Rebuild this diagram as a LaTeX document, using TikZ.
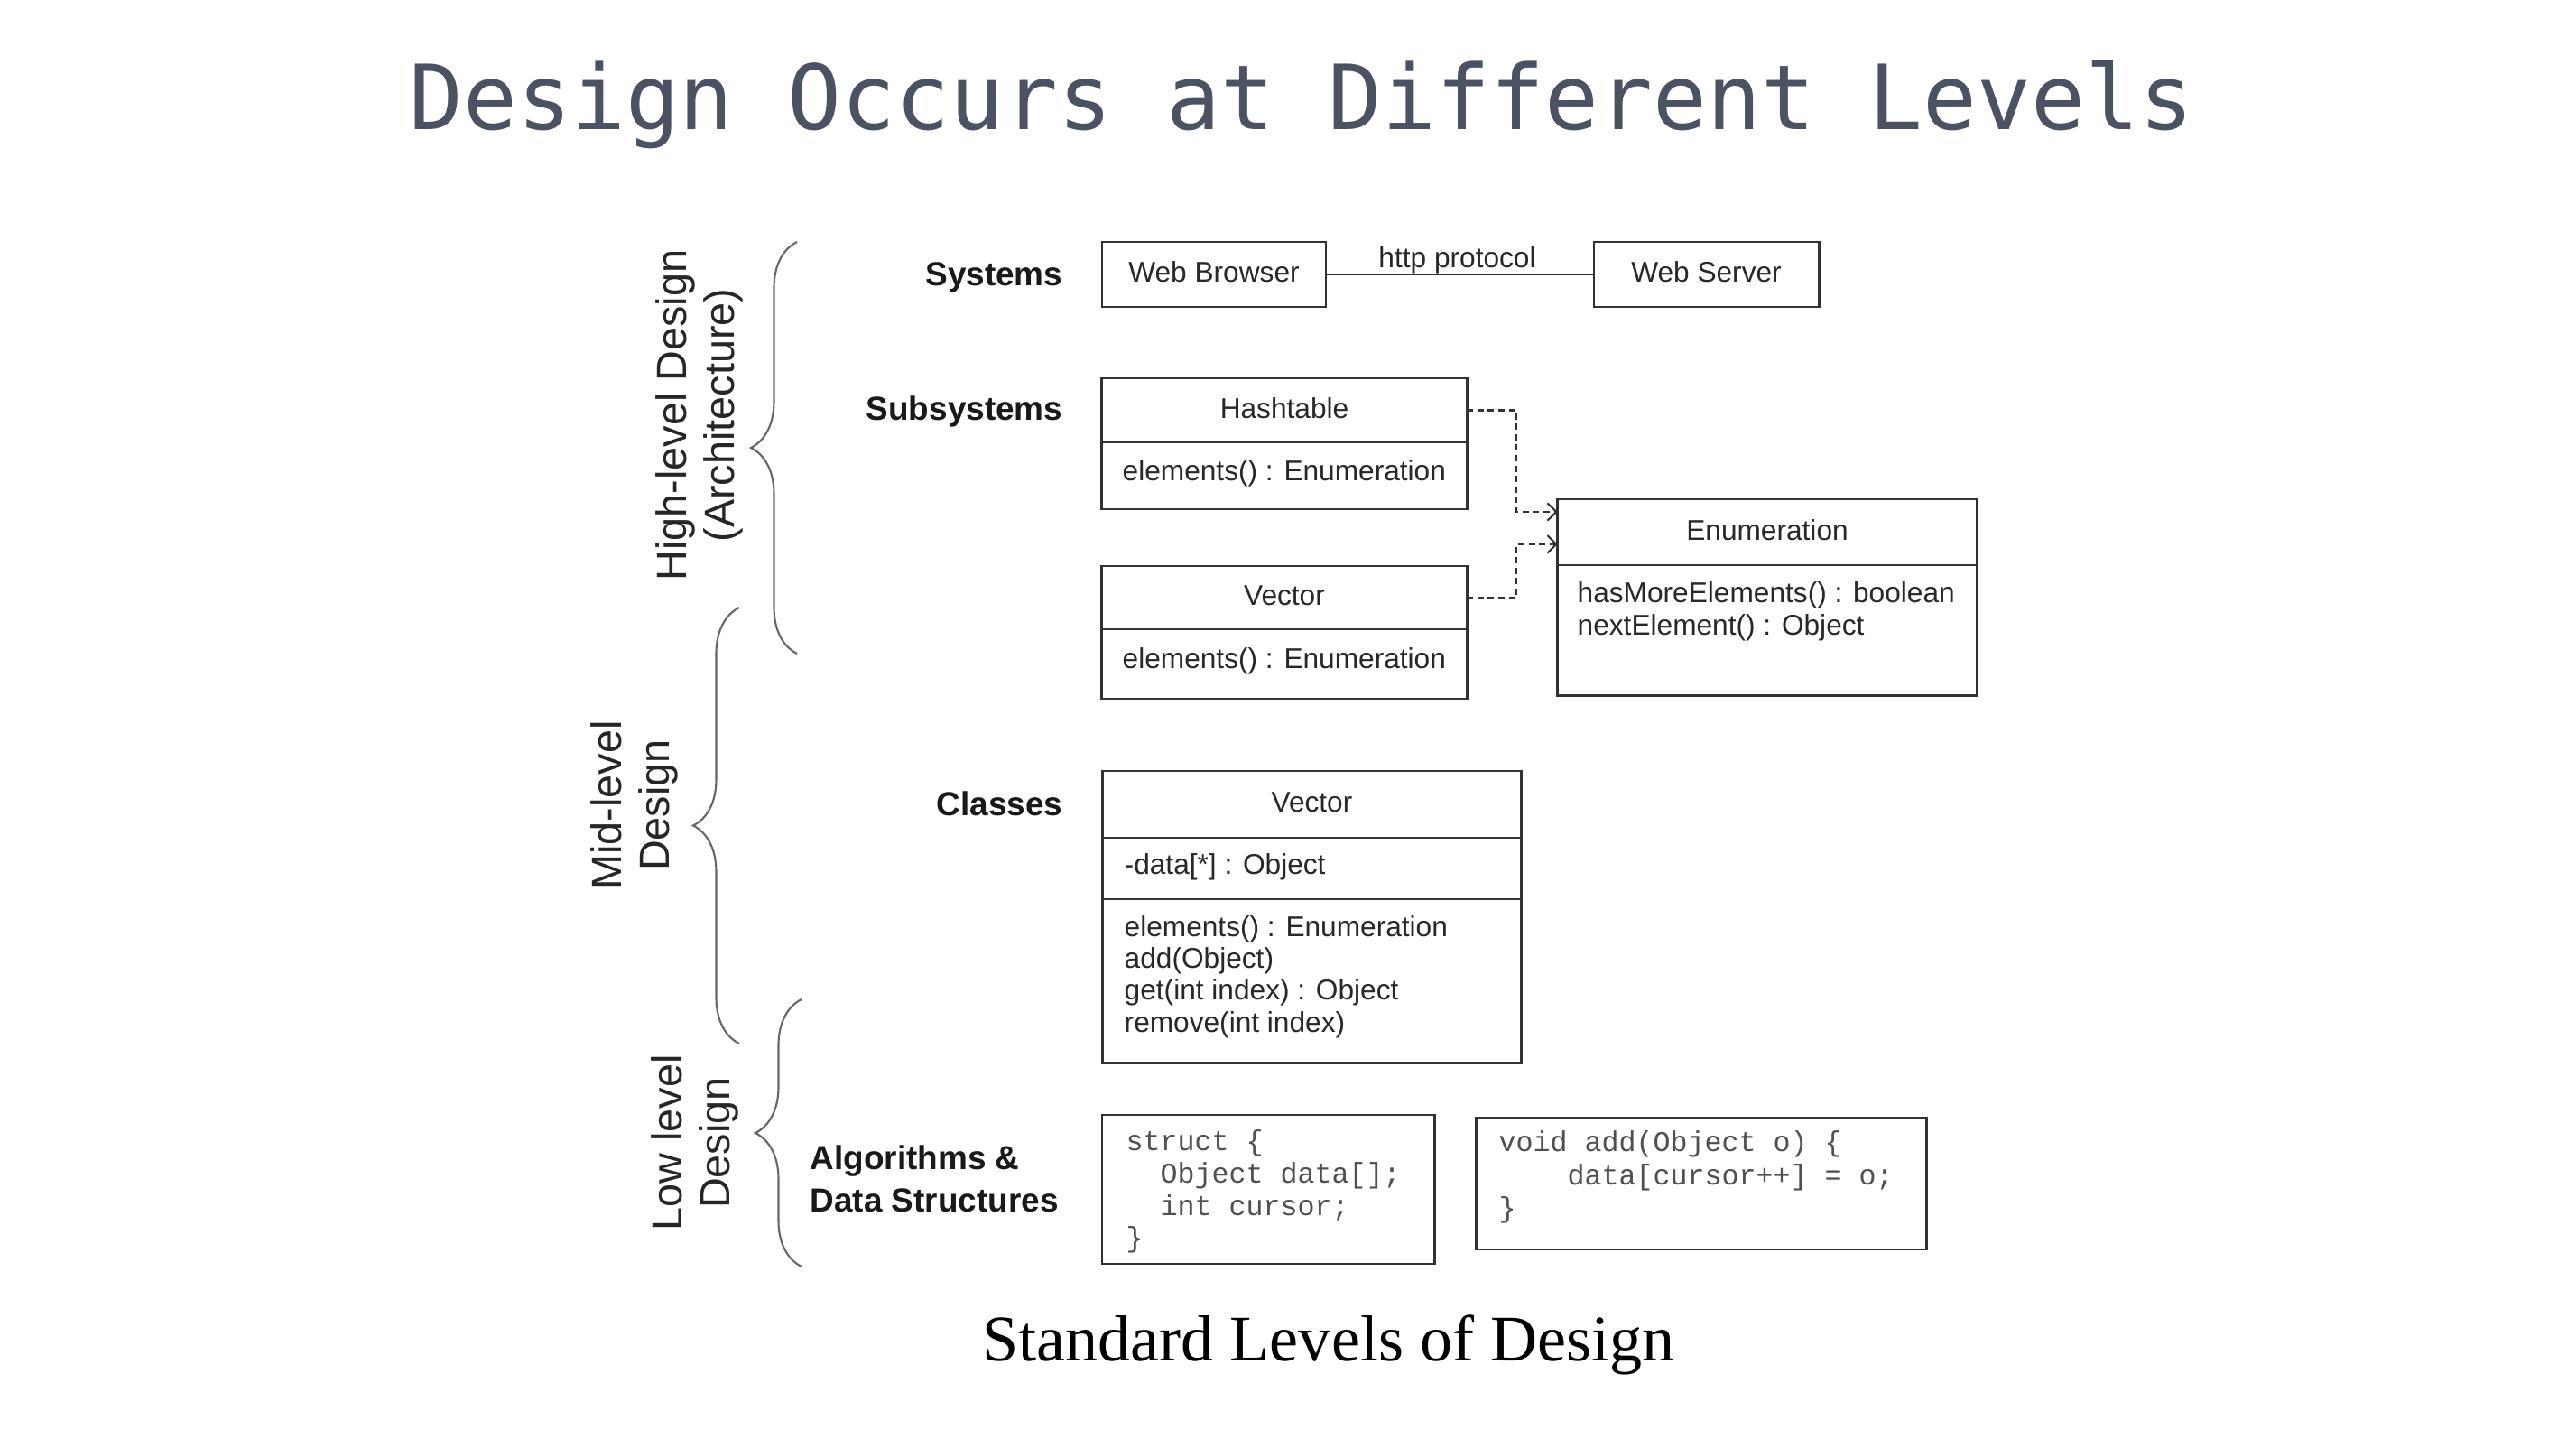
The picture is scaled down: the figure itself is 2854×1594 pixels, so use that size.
\documentclass[tikz,border=0pt]{standalone}
\usepackage{fontspec}
\setmainfont{Liberation Sans}
\newfontfamily\codefont{Liberation Mono}
\newfontfamily\headfont{DejaVu Sans Mono}
\newfontfamily\capfont{Liberation Serif}
\usetikzlibrary{arrows.meta,decorations.pathreplacing}

\definecolor{titlegray}{RGB}{74,82,99}
\definecolor{linegray}{RGB}{50,50,50}
\definecolor{textgray}{RGB}{40,40,40}
\definecolor{codegray}{RGB}{80,80,80}

\begin{document}
\begin{tikzpicture}[x=0.01cm,y=-0.01cm,
  boxfont/.style={font=\fontsize{9}{11}\selectfont, text=textgray},
  umlbox/.style={draw=linegray, line width=0.8pt, inner sep=0pt, outer sep=0pt,
                 boxfont, text height=0.75em, text depth=0.25em},
  member/.style={anchor=base west, inner sep=0pt, boxfont},
  level/.style={anchor=base east, inner sep=0pt,
                font=\fontsize{10.5}{13}\selectfont\bfseries, text=black!90},
  tier/.style={anchor=base, rotate=90, inner sep=0pt,
               font=\fontsize{13.3}{15}\selectfont, text=black!85},
  curly/.style={draw=black!60, line width=0.6pt, decorate,
                decoration={brace, amplitude=0.51cm}},
  dep/.style={draw=black!80, line width=0.6pt, dash pattern=on 2pt off 1.3pt,
              -{Straight Barb[length=2.8pt,width=5.5pt]}},
  link/.style={draw=linegray, line width=0.8pt},
  codeline/.style={anchor=base west, inner sep=0pt,
                   font=\codefont\fontsize{9}{10}\selectfont, text=codegray}
]
\useasboundingbox (0,0) rectangle (2854,1594);
\fill[white] (0,0) rectangle (2854,1594);

% heading and caption
\node[anchor=base, inner sep=0pt, font=\headfont\fontsize{28.3}{30}\selectfont,
      text=titlegray] (title) at (1442,144) {Design Occurs at Different Levels};
\node[anchor=base, inner sep=0pt, font=\capfont\fontsize{20.5}{24}\selectfont]
      (caption) at (1472,1507) {Standard Levels of Design};

% rotated tier names
\node[tier] (hl1) at (760,460) {High-level Design};
\node[tier] (hl2) at (813,460) {(Architecture)};
\node[tier] (ml1) at (688,892) {Mid-level};
\node[tier] (ml2) at (741,892) {Design};
\node[tier] (ll1) at (755,1266) {Low level};
\node[tier] (ll2) at (808,1266) {Design};

% braces grouping the levels
\draw[curly] (883,724) -- (883,268);
\draw[curly] (819,1156) -- (819,673);
\draw[curly] (888,1403) -- (888,1107);

% level names
\node[level] (lsys) at (1178,316) {Systems};
\node[level] (lsub) at (1178,465) {Subsystems};
\node[level] (lcls) at (1178,903) {Classes};
\node[level, anchor=base west] (lalg1) at (897,1295) {Algorithms \&};
\node[level, anchor=base west] (lalg2) at (897,1342) {Data Structures};

% systems
\node[umlbox, minimum width=2.48cm, minimum height=0.72cm] (wb) at (1345,304) {Web Browser};
\node[umlbox, minimum width=2.49cm, minimum height=0.72cm] (ws) at (1890.5,304) {Web Server};
\draw[link] (wb) -- node[pos=0.49, anchor=base, yshift=2pt, inner sep=0pt, boxfont]
  (http) {http protocol} (ws);

% subsystems
\node[umlbox, minimum width=4.04cm, minimum height=0.71cm] (ht) at (1423,454.5) {Hashtable};
\node[umlbox, minimum width=4.04cm, minimum height=0.74cm, anchor=north] (htops) at (ht.south) {};
\node[member] (htm) at (1243,532) {elements() : Enumeration};

\node[umlbox, minimum width=4.04cm, minimum height=0.70cm] (vs) at (1423,662) {Vector};
\node[umlbox, minimum width=4.04cm, minimum height=0.77cm, anchor=north] (vsops) at (vs.south) {};
\node[member] (vsm) at (1243,740) {elements() : Enumeration};

\node[umlbox, minimum width=4.64cm, minimum height=0.73cm] (en) at (1958,589.5) {Enumeration};
\node[umlbox, minimum width=4.64cm, minimum height=1.44cm, anchor=north] (enops) at (en.south) {};
\node[member] (enm1) at (1747,667) {hasMoreElements() : boolean};
\node[member] (enm2) at (1747,703) {nextElement() : Object};

\draw[dep] (ht.east) -- ++(55,0) |- ([yshift=6.4pt]en.west);
\draw[dep] (vs.east) -- ++(55,0) |- ([yshift=-3.8pt]en.west);

% class
\node[umlbox, minimum width=4.63cm, minimum height=0.74cm] (cv) at (1453.5,891) {Vector};
\node[umlbox, minimum width=4.63cm, minimum height=0.68cm, anchor=north] (cvatt) at (cv.south) {};
\node[umlbox, minimum width=4.63cm, minimum height=1.81cm, anchor=north] (cvops) at (cvatt.south) {};
\node[member] (cva) at (1245,968) {-data[*] : Object};
\node[member] (cvm1) at (1245,1037) {elements() : Enumeration};
\node[member] (cvm2) at (1245,1072) {add(Object)};
\node[member] (cvm3) at (1245,1107) {get(int index) : Object};
\node[member] (cvm4) at (1245,1143) {remove(int index)};

% algorithms and data structures
\node[umlbox, minimum width=3.68cm, minimum height=1.65cm] (cb1) at (1405,1317.5) {};
\node[codeline] (c11) at (1247,1274) {struct \{};
\node[codeline] (c12) at (1247,1310) {\phantom{xx}Object data[];};
\node[codeline] (c13) at (1247,1346) {\phantom{xx}int cursor;};
\node[codeline] (c14) at (1247,1381) {\}};

\node[umlbox, minimum width=4.98cm, minimum height=1.46cm] (cb2) at (1885,1311) {};
\node[codeline] (c21) at (1660,1275) {void add(Object o) \{};
\node[codeline] (c22) at (1660,1312) {\phantom{xxxx}data[cursor++] = o;};
\node[codeline] (c23) at (1660,1348) {\}};
\end{tikzpicture}
\end{document}
